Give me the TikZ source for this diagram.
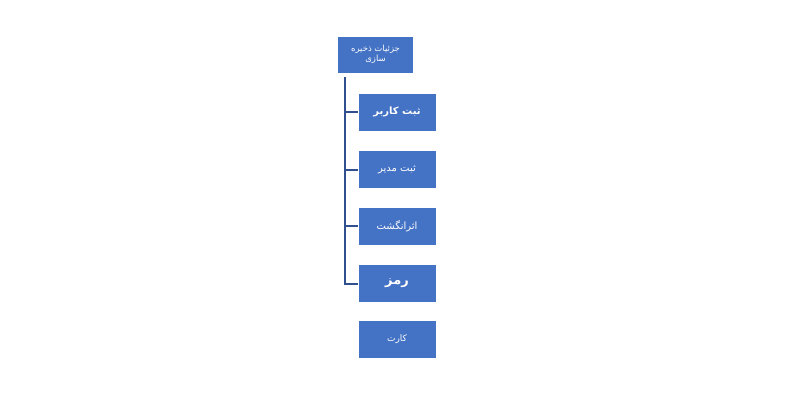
\documentclass[tikz,border=0pt]{standalone}
\usepackage{fontspec}
\TeXXeTstate=1
\newfontfamily\arabicfont[Script=Arabic]{DejaVu Sans}
\definecolor{boxblue}{HTML}{4472C4}
\definecolor{lineblue}{HTML}{2F4F8F}
\begin{document}
\begin{tikzpicture}[x=1pt,y=-1pt,
  box/.style={draw=white, line width=0.6pt, fill=boxblue, text=white, minimum width=78pt, minimum height=38pt, inner sep=1pt, font=\arabicfont\fontsize{10}{11}\selectfont, align=center},
  conn/.style={draw=lineblue, line width=2pt}]
\useasboundingbox (0,0) rectangle (800,400);
\node[box, minimum width=76pt, minimum height=37pt, font=\arabicfont\fontsize{8.5}{10}\selectfont] (root) at (375.5,54.5) {\beginR جزئیات ذخیره\endR\\\beginR سازی\endR};
\node[box, font=\arabicfont\bfseries\fontsize{10}{11}\selectfont] (c1) at (397,112) {\beginR ثبت کاربر\endR};
\node[box] (c2) at (397,169.5) {\beginR ثبت مدیر\endR};
\node[box] (c3) at (397,226) {\beginR اثرانگشت\endR};
\node[box, font=\arabicfont\bfseries\fontsize{13}{14}\selectfont] (c4) at (397,283.5) {\beginR رمز\endR};
\node[box, font=\arabicfont\fontsize{9}{10}\selectfont] (c5) at (397,339.5) {\beginR کارت\endR};
\coordinate (top) at (345,77);
\draw[conn] (top) |- (c4.west);
\draw[conn] (c1.west) -- (c1.west -| top);
\draw[conn] (c2.west) -- (c2.west -| top);
\draw[conn] (c3.west) -- (c3.west -| top);
\end{tikzpicture}
\end{document}
